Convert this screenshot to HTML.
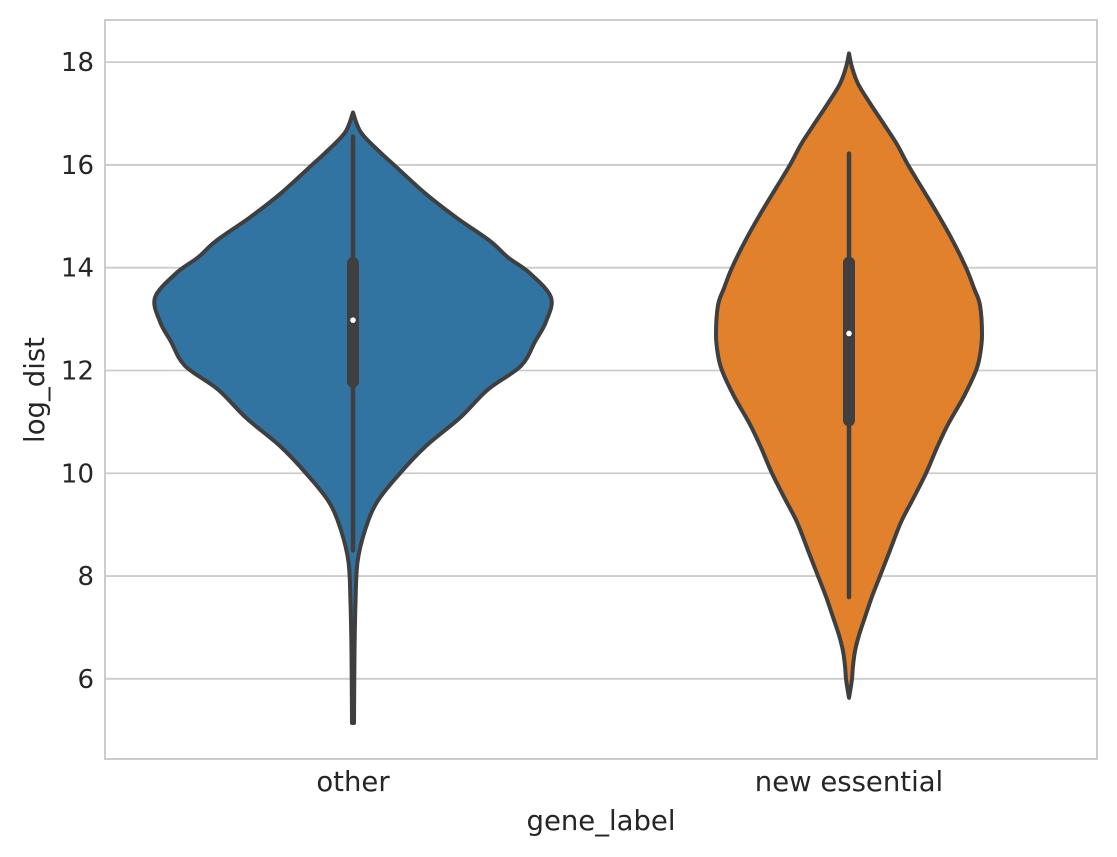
<!DOCTYPE html>
<html><head><meta charset="utf-8">
<style>
html,body{margin:0;padding:0;background:#fff;}
svg{display:block;font-family:"DejaVu Sans","Liberation Sans",sans-serif;}
</style></head>
<body>
<svg id="chart" width="1117" height="857" viewBox="0 0 1117 857" xmlns="http://www.w3.org/2000/svg">
</svg>
<script>
const categories = ["other", "new essential"];
const yTicks = [6, 8, 10, 12, 14, 16, 18];
// violin density profiles: values (log_dist) and half-widths
const otherVals = [17.02,16.63,16.23,16.0,15.45,14.98,14.52,14.2,13.89,13.42,12.95,12.56,12.09,11.63,11.08,10.53,10.0,9.44,8.89,8.27,7.48,6.5,5.14];
const otherWidths = [0,8,28,41,72,103,137,155,177,198,193,182,168,135,107,73,47,24,12,4.5,2.5,1.5,1];
const essVals = [18.17,17.9,17.58,17.2,16.76,16.4,16.0,15.55,15.1,14.55,14.0,13.6,13.27,12.69,12.3,12.0,11.5,10.95,10.5,10.0,9.5,9.05,8.5,8.0,7.6,7.2,6.85,6.54,6.25,6.0,5.8,5.63];
const essWidths = [0,3,9,21,36,48,59,73,87,103,117,125,131,133,131,127,115,99,88,77,64,52,41,31,23,16,10,6,4,3,1.5,0];
// box stats: [whiskerLow, q1, median, q3, whiskerHigh]
const otherBox = [8.5, 11.78, 12.98, 14.09, 16.55];
const essBox = [7.59, 11.03, 12.72, 14.1, 16.22];

const NS = "http://www.w3.org/2000/svg";
const svg = document.getElementById("chart");
const L = 105, R = 1097, T = 20, B = 759;
const yMin = 4.44, yMax = 18.82;
function y(v){ return B - (v - yMin) / (yMax - yMin) * (B - T); }
function x(i){ return L + (i + 0.5) * (R - L) / categories.length; }
function mk(tag, attrs){ const e = document.createElementNS(NS, tag); for (const k in attrs) e.setAttribute(k, attrs[k]); return e; }

const frame = mk("rect", {x:L, y:T, width:R-L, height:B-T, fill:"none", stroke:"#cccccc", "stroke-width":2});


svg.appendChild(frame);

yTicks.forEach(t => {
  const g = mk("line", {x1:L, x2:R, y1:y(t), y2:y(t), stroke:"#cccccc", "stroke-width":1.8});
  
  
  svg.appendChild(g);
  const tx = mk("text", {x:L-11, y:y(t)+9, "text-anchor":"end", "font-size":26, fill:"#262626"});
  tx.textContent = t;
  
  
  svg.appendChild(tx);
});

function smooth(pts){
  let d = "M" + pts[0][0] + "," + pts[0][1];
  for (let i = 0; i < pts.length - 1; i++) {
    const p0 = pts[Math.max(0,i-1)], p1 = pts[i], p2 = pts[i+1], p3 = pts[Math.min(pts.length-1,i+2)];
    const c1 = [p1[0] + (p2[0]-p0[0])/6, p1[1] + (p2[1]-p0[1])/6];
    const c2 = [p2[0] - (p3[0]-p1[0])/6, p2[1] - (p3[1]-p1[1])/6];
    d += " C" + c1[0] + "," + c1[1] + " " + c2[0] + "," + c2[1] + " " + p2[0] + "," + p2[1];
  }
  return d;
}

function violin(i, vals, widths, box, color, name){
  const cx = x(i);
  const right = vals.map((v,k) => [cx + widths[k], y(v)]);
  const left = vals.map((v,k) => [cx - widths[k], y(v)]).reverse();
  const d = smooth(right) + " L" + smooth(left).slice(1) + " Z";
  const p = mk("path", {d:d, fill:color, stroke:"#3f3f3f", "stroke-width":4, "stroke-linejoin":"round"});
  
  
  svg.appendChild(p);
  const w = mk("line", {x1:cx, x2:cx, y1:y(box[0]), y2:y(box[4]), stroke:"#3f3f3f", "stroke-width":4.5, "stroke-linecap":"round"});
  
  
  svg.appendChild(w);
  const b = mk("line", {x1:cx, x2:cx, y1:y(box[1]), y2:y(box[3]), stroke:"#3f3f3f", "stroke-width":12, "stroke-linecap":"round"});
  
  
  svg.appendChild(b);
  const m = mk("circle", {cx:cx, cy:y(box[2]), r:2.8, fill:"#ffffff"});
  
  
  svg.appendChild(m);
  const t = mk("text", {x:cx, y:791, "text-anchor":"middle", "font-size":27.5, fill:"#262626"});
  t.textContent = categories[i];
  
  
  svg.appendChild(t);
}
violin(0, otherVals, otherWidths, otherBox, "#3274a1", "other");
violin(1, essVals, essWidths, essBox, "#e1812c", "new-essential");

const xl = mk("text", {x:(L+R)/2, y:830, "text-anchor":"middle", "font-size":27.5, fill:"#262626"});
xl.textContent = "gene_label";


svg.appendChild(xl);
const yl = mk("text", {x:0, y:0, "text-anchor":"middle", "font-size":27.5, fill:"#262626", transform:"translate(44,390) rotate(-90)"});
yl.textContent = "log_dist";


svg.appendChild(yl);
</script>
</body></html>
